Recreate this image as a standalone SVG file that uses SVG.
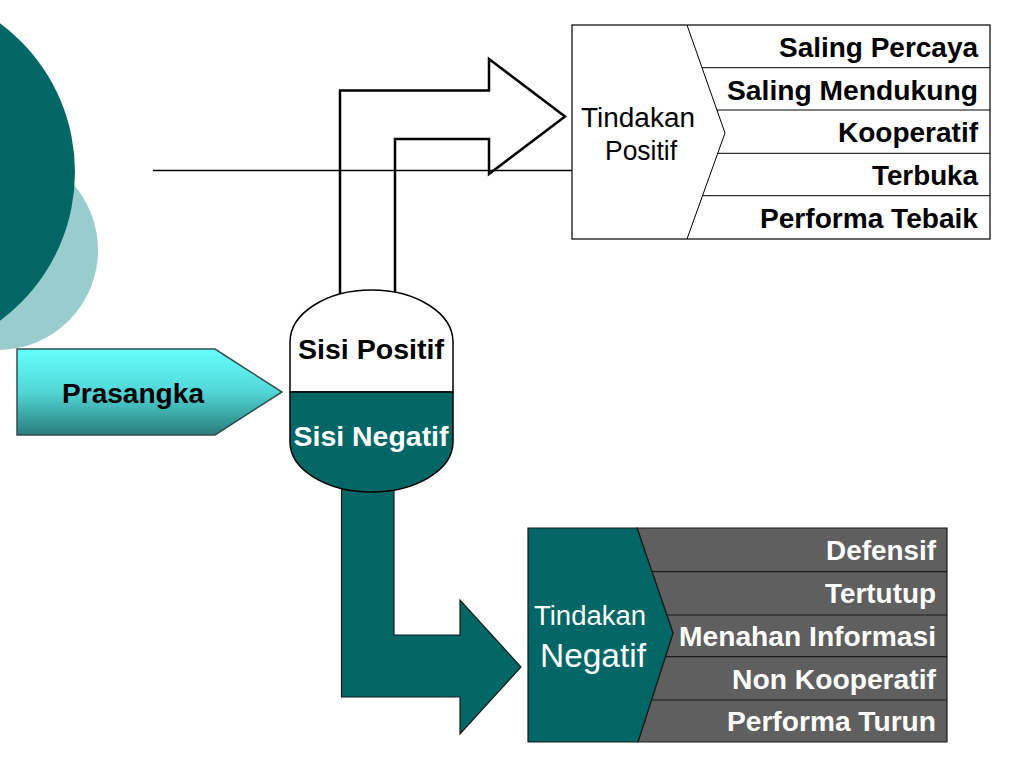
<svg xmlns="http://www.w3.org/2000/svg" width="1024" height="768" viewBox="0 0 1024 768">
<defs>
<linearGradient id="gPras" x1="0" y1="0" x2="0" y2="1">
<stop offset="0" stop-color="#66FFFF"/>
<stop offset="0.5" stop-color="#52D6D6"/>
<stop offset="1" stop-color="#2A7C7C"/>
</linearGradient>
</defs>
<style>
.b{font-family:"Liberation Sans",Arial,sans-serif;font-weight:bold;font-size:27px}
.r{font-family:"Liberation Sans",Arial,sans-serif;font-size:27px}
.k{fill:#000}
.w{fill:#fff}
.end{text-anchor:end}
.mid{text-anchor:middle}
.div{stroke:#000;stroke-width:1}
.divd{stroke:#1a1a1a;stroke-width:1.2}
</style>
<rect width="1024" height="768" fill="#fff"/>
<g id="background">
<circle cx="-2" cy="250" r="100" fill="#99CCCC"/>
<circle cx="-110" cy="172" r="185" fill="#006666"/>
</g>
<g id="connectors">
<path d="M340,300 L340,90.5 L489,90.5 L489,59 L565,116.5 L489,174 L489,139 L395,139 L395,300" fill="#fff" stroke="#000" stroke-width="2.5" stroke-linejoin="miter"/>
<line x1="153" y1="170.5" x2="572" y2="170.5" stroke="#000" stroke-width="1.5"/>
<path d="M341.5,480 L341.5,697 L460,697 L460,734 L521,667 L460,600 L460,635 L394,635 L394,480 Z" fill="#006666" stroke="#1a1a1a" stroke-width="1.2"/>
</g>
<g id="node-prasangka">
<path d="M17,349 L215,349 L282,392 L215,435 L17,435 Z" fill="url(#gPras)" stroke="#2F4F4F" stroke-width="1.5"/>
<text class="b k mid" x="133" y="403" textLength="142" lengthAdjust="spacingAndGlyphs">Prasangka</text>
</g>
<g id="node-sisi">
<path d="M290,342 A81.5,52 0 0 1 453,342 L453,392 L290,392 Z" fill="#fff" stroke="#000" stroke-width="1.5"/>
<path d="M290,392 L453,392 L453,442 A81.5,50 0 0 1 290,442 Z" fill="#006666" stroke="#000" stroke-width="1.5"/>
<text class="b k mid" x="371" y="359" textLength="146" lengthAdjust="spacingAndGlyphs">Sisi Positif</text>
<text class="b w mid" x="371" y="446" textLength="155" lengthAdjust="spacingAndGlyphs">Sisi Negatif</text>
</g>
<g id="node-tindakan-positif">
<rect x="572" y="25" width="418" height="214" fill="#fff" stroke="#000" stroke-width="1.2"/>
<polyline points="687,25 725,133 687,239" fill="none" stroke="#000" stroke-width="1"/>
<line class="div" x1="702" y1="67.7" x2="990" y2="67.7"/>
<line class="div" x1="717" y1="110" x2="990" y2="110"/>
<line class="div" x1="717.7" y1="153.3" x2="990" y2="153.3"/>
<line class="div" x1="702.5" y1="195.7" x2="990" y2="195.7"/>
<text class="r k mid" x="638" y="127" textLength="114" lengthAdjust="spacingAndGlyphs">Tindakan</text>
<text class="r k mid" x="641" y="160" textLength="72" lengthAdjust="spacingAndGlyphs">Positif</text>
<text class="b k end" x="978" y="57" textLength="199" lengthAdjust="spacingAndGlyphs">Saling Percaya</text>
<text class="b k end" x="978" y="100" textLength="251" lengthAdjust="spacingAndGlyphs">Saling Mendukung</text>
<text class="b k end" x="978" y="142" textLength="140" lengthAdjust="spacingAndGlyphs">Kooperatif</text>
<text class="b k end" x="978" y="185" textLength="106" lengthAdjust="spacingAndGlyphs">Terbuka</text>
<text class="b k end" x="978" y="228" textLength="218" lengthAdjust="spacingAndGlyphs">Performa Tebaik</text>
</g>
<g id="node-tindakan-negatif">
<path d="M637,528 L947,528 L947,742 L638,742 L673,633 Z" fill="#5F5F5F" stroke="#1a1a1a" stroke-width="1.2"/>
<path d="M528,528 L637,528 L673,633 L638,742 L528,742 Z" fill="#006666" stroke="#1a1a1a" stroke-width="1.2"/>
<line class="divd" x1="652" y1="571.7" x2="947" y2="571.7"/>
<line class="divd" x1="667" y1="615" x2="947" y2="615"/>
<line class="divd" x1="665.4" y1="656.7" x2="947" y2="656.7"/>
<line class="divd" x1="651.5" y1="700" x2="947" y2="700"/>
<text class="r w mid" x="590" y="625" textLength="112" lengthAdjust="spacingAndGlyphs">Tindakan</text>
<text class="r w mid" x="593" y="667" style="font-size:33px" textLength="106" lengthAdjust="spacingAndGlyphs">Negatif</text>
<text class="b w end" x="936" y="560" textLength="110" lengthAdjust="spacingAndGlyphs">Defensif</text>
<text class="b w end" x="936" y="603" textLength="111" lengthAdjust="spacingAndGlyphs">Tertutup</text>
<text class="b w end" x="936" y="646" textLength="257" lengthAdjust="spacingAndGlyphs">Menahan Informasi</text>
<text class="b w end" x="936" y="689" textLength="204" lengthAdjust="spacingAndGlyphs">Non Kooperatif</text>
<text class="b w end" x="936" y="731" textLength="209" lengthAdjust="spacingAndGlyphs">Performa Turun</text>
</g>
</svg>
